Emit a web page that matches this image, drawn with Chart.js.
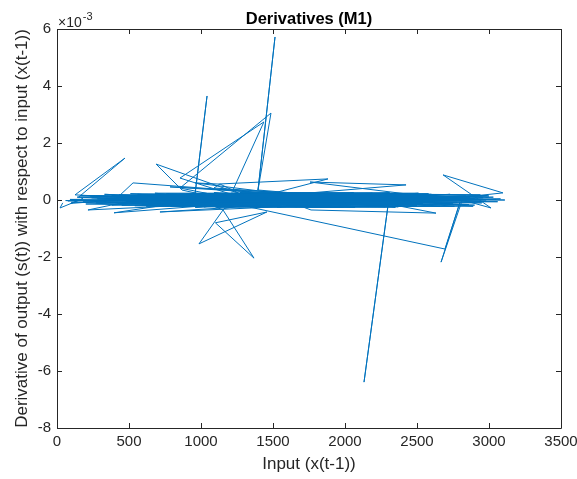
<!DOCTYPE html>
<html>
<head>
<meta charset="utf-8">
<script src="https://cdn.jsdelivr.net/npm/chart.js@4.4.1/dist/chart.umd.min.js"></script>
<style>
    html, body { margin: 0; padding: 0; background: #fff; }
    #wrap { width: 577px; height: 479px; }
</style>
</head>
<body>
<div id="wrap"><canvas id="derivChart" width="577" height="479"></canvas></div>
<script>
// input x(t-1)
const inputX = [
    40, 21, 180, 95, 620, 215, 1450, 310, 2100, 760,
    125, 472, 150, 1180, 2650, 480, 1900, 396, 1020, 2980,
    1620, 330, 2450, 870, 1700, 240, 2780, 560, 1300, 3050,
    700, 1550, 2250, 528, 410, 2050, 990, 2550, 180, 1380,
    688, 868, 1250, 2870, 640, 1820, 2350, 90, 1480, 2700,
    785, 1720, 3110, 940, 2150, 380, 1600, 2900, 715, 1950,
    1060, 2500, 270, 1780, 958, 1118, 1882, 1350, 2600, 520,
    2300, 1150, 3000, 800, 1650, 2420, 450, 1850, 2750, 1090,
    1132, 1400, 854, 1437, 1222, 2000, 600, 2820, 1520, 330,
    2200, 958, 1042, 958, 1750, 2380, 760, 1560, 2640, 1290,
    854, 1486, 1396, 1514, 1396, 2080, 670, 1930, 2520, 1200,
    2950, 1040, 1153, 1368, 1100, 1458, 986, 1160, 1600, 2250,
    1340, 2694, 2799, 2667, 2819, 1800, 2400, 2299, 2132, 2299,
    3097, 2681, 3014, 2850, 1757, 2424, 1500, 1764, 2632, 2100,
    230, 1880, 860, 2560, 420, 2960, 1420, 100, 2180, 1080,
    2720, 560, 1680, 2330, 920, 3060, 1230, 2040, 650, 2480,
    1330, 2900, 360, 1980, 1140, 2610, 740, 1570, 2230, 160,
    1860, 1010, 2780, 490, 1460, 2120, 830, 2400, 1270, 3080,
    590, 1730, 2270, 280, 1640, 2840, 1050, 2020, 720, 2540,
    1370, 440, 1920, 2690, 1180, 2160, 880, 2460, 60, 1590,
    1010, 2370, 620, 1810, 2890, 1260, 340, 2060, 1530, 2730,
    790, 1700, 2440, 1110, 2990, 510, 1940, 1310, 2580, 200,
    1440, 2190, 900, 2660, 1620, 380, 2280, 1210, 3030, 1780,
    680, 2510, 1360, 1990, 540, 2860, 1090, 1660, 2310, 140,
    1500, 2600, 960, 2140, 1270, 2940, 760, 1840, 2420, 1190,
    2070, 430, 1560, 2760, 1020, 1890, 2350, 620, 1420, 75
];

// derivative ds(t)/dx(t-1), in units of 1e-3
const derivY = [
    -0.10, -0.28, 0.05, -0.12, 0.08, -0.35, -0.05, 0.12, -0.08, 0.02,
    0.18, 1.47, 0.10, -0.12, 0.05, -0.06, 0.14, -0.45, 0.03, -0.04,
    0.10, -0.02, -0.14, 0.16, -0.18, 0.08, 0.12, -0.10, 0.20, 0.02,
    -0.14, 0.06, -0.05, 0.60, 0.04, 0.18, -0.20, 0.08, -0.04, 0.02,
    1.26, 0.35, -0.08, 0.10, 0.12, -0.12, 0.15, 0.02, -0.16, -0.02,
    0.46, 0.16, 0.00, -0.06, 0.04, 0.16, -0.22, 0.06, -0.42, -0.02,
    0.12, -0.20, -0.10, 0.08, 0.60, 0.56, 0.74, 0.04, -0.10, 0.06,
    0.10, -0.16, 0.14, -0.02, 0.22, -0.06, -0.18, 0.00, -0.14, 0.42,
    0.56, -0.10, 0.77, 2.74, 0.35, -0.14, 0.14, 0.04, -0.04, 0.20,
    -0.18, 0.18, 3.65, 0.18, -0.06, 0.20, -0.20, 0.12, 0.16, -0.02,
    0.42, 3.05, 0.35, 5.72, 0.35, 0.06, -0.08, 0.20, 0.02, 0.14,
    -0.10, -0.12, -0.35, -2.04, -0.80, -0.42, -1.54, -0.30, 0.08, -0.12,
    -0.25, -1.72, -0.07, -2.18, 0.07, 0.12, 0.02, -0.18, -6.39, -0.18,
    0.25, 0.88, -0.28, -0.05, 0.63, 0.53, 0.14, -0.35, -0.46, 0.06,
    0.14, -0.20, 0.06, -0.16, 0.10, 0.08, -0.18, -0.08, 0.16, -0.04,
    0.10, 0.20, -0.08, 0.22, -0.16, -0.06, 0.08, -0.22, 0.02, 0.12,
    -0.14, -0.18, -0.08, 0.10, 0.22, -0.04, 0.10, -0.12, 0.00, 0.16,
    0.04, 0.10, -0.08, -0.04, 0.18, -0.10, -0.10, 0.14, -0.20, 0.04,
    -0.16, 0.12, -0.20, 0.04, 0.00, 0.14, -0.18, 0.08, 0.16, -0.12,
    0.12, -0.12, -0.06, 0.02, 0.04, 0.20, 0.00, -0.02, -0.02, 0.04,
    0.24, -0.24, 0.18, 0.24, -0.22, -0.24, 0.06, 0.26, -0.26, 0.20,
    -0.22, 0.26, 0.22, -0.26, 0.16, 0.22, -0.24, 0.26, 0.22, -0.14,
    -0.26, 0.24, 0.22, -0.22, 0.26, -0.18, -0.24, 0.24, 0.10, -0.26,
    0.24, 0.24, -0.24, -0.26, -0.20, -0.16, 0.26, -0.24, 0.26, 0.10,
    0.26, 0.20, -0.26, 0.22, 0.26, 0.18, 0.22, -0.26, -0.22, -0.22,
    -0.26, 0.18, 0.24, -0.22, -0.24, 0.22, -0.26, -0.22, 0.22, -0.04
];

const xTicks = [0, 500, 1000, 1500, 2000, 2500, 3000, 3500];
const yTicks = [-8, -6, -4, -2, 0, 2, 4, 6];

const FONT = "'Liberation Sans', Arial, Helvetica, sans-serif";
const AXIS_COLOR = "#262626";

// matlab style box, inward ticks, title and exponent label
const matlabAxes = {
    id: "matlabAxes",
    afterDraw(chart) {
        const { ctx, chartArea: a, scales } = chart;
        ctx.save();
        ctx.strokeStyle = AXIS_COLOR;
        ctx.lineWidth = 1;
        ctx.beginPath();
        ctx.rect(a.left + 0.5, a.top + 0.5, a.right - a.left, a.bottom - a.top);
        ctx.stroke();

        const len = 5;
        ctx.beginPath();
        xTicks.forEach((t) => {
            const px = Math.round(scales.x.getPixelForValue(t)) + 0.5;
            ctx.moveTo(px, a.bottom);
            ctx.lineTo(px, a.bottom - len);
            ctx.moveTo(px, a.top);
            ctx.lineTo(px, a.top + len);
        });
        yTicks.forEach((t) => {
            const py = Math.round(scales.y.getPixelForValue(t)) + 0.5;
            ctx.moveTo(a.left, py);
            ctx.lineTo(a.left + len, py);
            ctx.moveTo(a.right, py);
            ctx.lineTo(a.right - len, py);
        });
        ctx.stroke();

        ctx.fillStyle = "#000";
        ctx.font = "bold 16.5px " + FONT;
        ctx.textAlign = "center";
        ctx.textBaseline = "alphabetic";
        ctx.fillText("Derivatives (M1)", (a.left + a.right) / 2, 24);

        ctx.fillStyle = AXIS_COLOR;
        ctx.textAlign = "left";
        ctx.font = "14px " + FONT;
        ctx.fillText("\u00d710", a.left + 1, 27);
        const w = ctx.measureText("\u00d710").width;
        ctx.font = "11px " + FONT;
        ctx.fillText("-3", a.left + w + 2, 20);
        ctx.restore();
    },
};

const points = inputX.map((x, i) => ({ x: x, y: derivY[i] }));

new Chart(document.getElementById("derivChart"), {
    type: "scatter",
    data: {
        datasets: [
            {
                data: points,
                showLine: true,
                borderColor: "#0072BD",
                backgroundColor: "#0072BD",
                borderWidth: 1,
                pointRadius: 0,
                tension: 0,
            },
        ],
    },
    options: {
        responsive: false,
        animation: false,
        layout: {
            padding: { top: 29, right: 0, left: 0, bottom: 0 },
        },
        plugins: {
            legend: { display: false },
            tooltip: { enabled: false },
        },
        scales: {
            x: {
                type: "linear",
                min: 0,
                max: 3500,
                afterFit: (s) => {
                    s.height = 51;
                    s.paddingLeft = 0;
                    s.paddingRight = 16;
                },
                afterBuildTicks: (s) => { s.ticks = xTicks.map((v) => ({ value: v })); },
                grid: { display: false, drawTicks: false },
                border: { display: false },
                ticks: {
                    color: AXIS_COLOR,
                    font: { family: FONT, size: 15 },
                    padding: 5,
                    maxRotation: 0,
                    autoSkip: false,
                    callback: (v) => String(v),
                },
                title: {
                    display: true,
                    text: "Input (x(t-1))",
                    color: AXIS_COLOR,
                    font: { family: FONT, size: 17 },
                    padding: { top: 0, bottom: 4 },
                },
            },
            y: {
                type: "linear",
                min: -8,
                max: 6,
                afterFit: (s) => {
                    s.width = 57;
                    s.paddingTop = 0;
                    s.paddingBottom = 0;
                },
                afterBuildTicks: (s) => { s.ticks = yTicks.map((v) => ({ value: v })); },
                grid: { display: false, drawTicks: false },
                border: { display: false },
                ticks: {
                    color: AXIS_COLOR,
                    font: { family: FONT, size: 15 },
                    padding: 6,
                    autoSkip: false,
                    callback: (v) => String(v),
                },
                title: {
                    display: true,
                    text: "Derivative of output (s(t)) with respect to input (x(t-1))",
                    color: AXIS_COLOR,
                    font: { family: FONT, size: 17 },
                    padding: { top: 12, bottom: 0 },
                },
            },
        },
    },
    plugins: [matlabAxes],
});
</script>
</body>
</html>
